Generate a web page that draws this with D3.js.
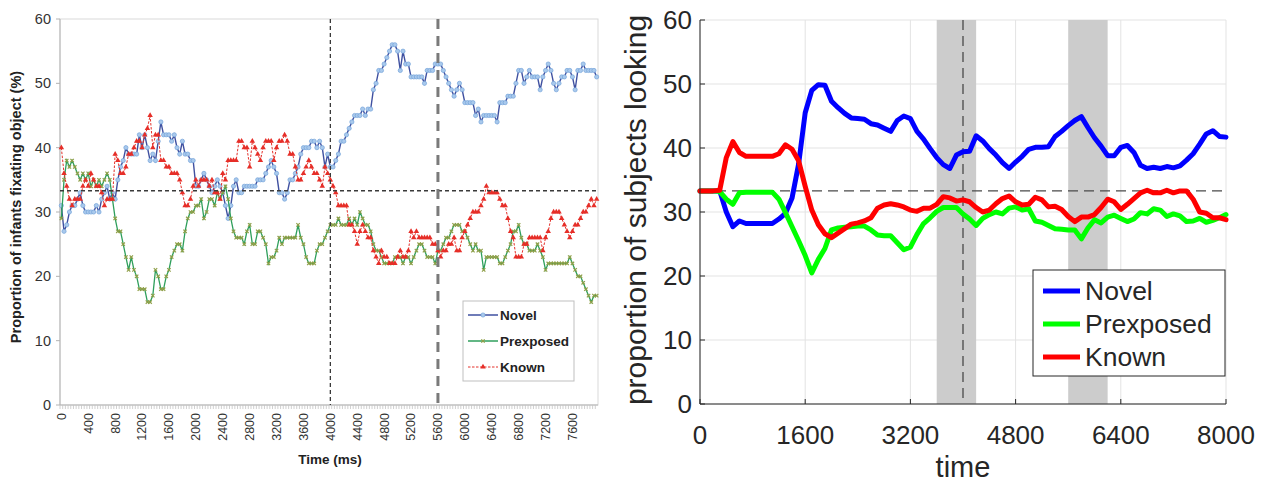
<!DOCTYPE html>
<html>
<head>
<meta charset="utf-8">
<script src="https://cdn.jsdelivr.net/npm/d3@7"></script>
<style>
  body { margin: 0; background: #fff; }
  svg { display: block; font-family: "Liberation Sans", Arial, Helvetica, sans-serif; }
</style>
</head>
<body>
<svg id="chart" width="1262" height="484"></svg>
<script>
// ---------- Left panel: sampled every 40 ms (category axis) ----------
const timesLeft = d3.range(0, 8000, 40);
const leftXTickLabels = d3.range(0, 8000, 400);
const leftYTicks = [0, 10, 20, 30, 40, 50, 60];

const novelLeft = [
  31,27,28,30,31,31,32,33,31,30, 30,30,30,31,30,32,33,34,32,33,
  32,35,37,38,40,39,39,39,39,42, 40,42,40,38,39,38,41,44,42,42,
  42,41,42,40,39,41,39,39,38,38, 34,34,35,36,35,34,33,34,35,34,
  33,31,29,31,34,35,33,33,34,34, 34,34,34,35,35,35,36,37,38,37,
  36,33,33,32,33,35,35,36,37,39, 40,40,40,41,41,40,41,40,37,39,
  37,37,38,39,41,41,42,43,44,45, 45,45,46,45,46,46,49,50,52,52,
  53,54,55,56,56,55,52,55,53,53, 51,51,51,51,51,50,52,52,52,53,
  53,53,52,51,50,49,48,49,50,49, 47,47,47,47,45,46,44,45,45,45,
  45,45,44,47,47,47,48,48,48,50, 52,52,50,51,52,51,51,51,49,51,
  52,53,52,50,49,50,51,51,52,52, 51,49,52,52,53,52,52,52,52,51
];
const prexposedLeft = [
  29,35,38,37,38,37,36,35,36,35, 36,34,35,34,35,34,35,36,35,32,
  29,27,27,25,23,21,23,21,20,18, 18,18,16,16,17,21,20,18,18,20,
  21,23,24,25,25,24,27,29,30,30, 31,31,32,29,30,32,32,31,33,32,
  33,34,32,29,27,26,26,26,25,27, 28,25,25,27,27,26,25,22,23,23,
  24,26,25,26,26,26,26,26,28,26, 25,23,22,22,22,24,25,25,26,27,
  28,28,28,29,28,28,28,29,28,29, 28,30,29,28,28,27,25,24,24,23,
  22,22,22,22,23,23,23,22,23,23, 22,23,24,25,25,24,23,23,23,22,
  24,24,25,26,26,27,28,28,28,27, 27,26,25,24,25,24,24,21,23,23,
  23,23,23,22,22,23,24,25,27,27, 28,26,25,25,24,24,24,25,24,23,
  21,22,22,22,22,22,22,22,22,23, 22,21,20,20,19,18,17,16,17,17
];
const knownLeft = [
  40,36,34,32,31,32,32,32,34,35, 34,36,35,34,34,33,31,32,32,32,
  39,38,36,36,37,39,39,40,41,41, 40,42,43,45,40,42,42,38,38,37,
  37,36,36,36,35,33,31,31,32,34, 35,34,35,35,35,34,35,33,33,32,
  36,35,38,38,38,38,41,41,40,40, 37,41,40,39,38,40,41,41,41,38,
  40,41,41,42,41,39,39,37,35,35, 36,37,38,37,36,36,35,34,37,36,
  35,34,33,31,31,31,31,28,28,27, 25,27,28,27,26,26,24,23,22,24,
  23,23,22,22,22,23,24,23,23,24, 27,26,27,26,26,26,26,26,25,25,
  24,23,24,24,25,25,26,24,24,26, 27,28,29,30,30,30,31,32,34,33,
  33,33,33,32,31,31,29,27,26,23, 23,23,25,25,26,26,26,26,26,24,
  26,27,29,30,30,30,29,28,27,26, 27,28,28,29,30,30,31,32,31,32
];
const chanceLevel = 33.3;
const leftMarkers = [4000, 5600];

// ---------- Right panel: smoothed, sampled every 100 ms ----------
const timesRight = d3.range(0, 8001, 100);
const rightXTicks = [0, 1600, 3200, 4800, 6400, 8000];
const rightYTicks = [0, 10, 20, 30, 40, 50, 60];
const shadedWindows = [[3600, 4200], [5600, 6200]];
const rightMarker = 4000;

const novelRight = [
  33.3,33.3,33.3,33.3,30,27.7,28.6,28.2,28.2,28.2,
  28.2,28.2,28.9,29.8,32.2,37.5,45.5,49,49.9,49.8,
  47.3,46.3,45.4,44.7,44.6,44.5,43.8,43.6,43.1,42.6,
  44.3,45,44.6,42.6,41.4,39.9,38.5,37.4,36.8,38.9,
  39.4,39.5,41.9,41.1,39.9,38.9,37.7,36.8,37.8,38.7,
  39.8,40.1,40.1,40.2,41.8,42.6,43.5,44.3,44.9,43.2,
  41.6,40.3,38.8,38.8,40.1,40.4,39.3,37.3,36.8,37,
  36.8,37.1,36.9,37.2,38.1,39.1,40.6,42.2,42.7,41.8,
  41.7
];
const prexposedRight = [
  33.3,33.3,33.3,33.2,32,31.2,33,33.1,33.1,33.1,
  33.1,33.1,32,29.9,27.7,25.5,23.2,20.5,22.6,24.3,
  27.2,27.5,27.6,27.7,27.8,27.8,27.2,26.4,26.3,26.3,
  25.2,24.1,24.5,26.5,28.2,29.1,30.1,30.7,30.7,30.7,
  29.7,28.9,27.9,29,29.6,30,29.7,30.6,30.8,30.3,
  30.5,28.6,28.4,27.9,27.4,27.3,27.2,27.2,25.8,27.5,
  28.8,28.3,29.2,29.5,29,28.5,28.9,29.9,29.7,30.5,
  30.3,29.3,29.7,29.4,28.5,28.6,29,28.4,28.7,29.1,
  29.6
];
const knownRight = [
  33.3,33.3,33.3,33.4,38.5,41,39.3,38.7,38.7,38.7,
  38.7,38.7,39.1,40.5,39.8,38,34,30.3,28,26.6,
  26,26.7,27.4,28.1,28.3,28.6,29.1,30.6,31.1,31.3,
  31.1,30.8,30.3,30.1,30.6,30.6,31.2,32.4,32.2,31.7,
  31.9,31.6,30.7,30,30.3,31.3,32.1,32.5,31.6,31.1,
  31.2,32.3,31.9,30.8,30.9,30.4,29.3,28.5,29.2,29.2,
  29.6,30.7,32,31.6,30.4,31.2,32.1,33,33.4,33,
  33,33.4,33,33.3,33.3,32,30,29.8,29.1,29.1,
  28.8
];

const seriesNames = ["Novel", "Prexposed", "Known"];

const svg = d3.select("#chart");

// ====================== LEFT PANEL ======================
const L = { left: 60, right: 598, top: 19, bottom: 405 };
const xL = d3.scaleBand().domain(timesLeft).range([L.left, L.right]);
const yL = d3.scaleLinear().domain([0, 60]).range([L.bottom, L.top]);
const cxL = t => xL(t) + xL.bandwidth() / 2;

const gL = svg.append("g");

// plot frame
gL.append("rect")
  .attr("x", L.left).attr("y", L.top)
  .attr("width", L.right - L.left).attr("height", L.bottom - L.top)
  .attr("fill", "none").attr("stroke", "#d9d9d9").attr("stroke-width", 1);

// y axis
gL.append("line").attr("x1", L.left).attr("x2", L.left)
  .attr("y1", L.top).attr("y2", L.bottom).attr("stroke", "#b3b3b3");
leftYTicks.forEach(v => {
  gL.append("line").attr("x1", L.left - 4).attr("x2", L.left)
    .attr("y1", yL(v)).attr("y2", yL(v)).attr("stroke", "#b3b3b3");
  gL.append("text").attr("x", L.left - 9).attr("y", yL(v)).attr("dy", "0.35em")
    .attr("text-anchor", "end").attr("font-size", 14.5).attr("fill", "#333")
    .text(v);
});

// x axis with a tick mark at every category boundary
gL.append("line").attr("x1", L.left).attr("x2", L.right)
  .attr("y1", L.bottom).attr("y2", L.bottom).attr("stroke", "#b3b3b3");
timesLeft.forEach(t => {
  gL.append("line").attr("x1", xL(t)).attr("x2", xL(t))
    .attr("y1", L.bottom).attr("y2", L.bottom + 4)
    .attr("stroke", "#c4c4c4").attr("stroke-width", 0.8);
});
leftXTickLabels.forEach(t => {
  gL.append("text")
    .attr("transform", `translate(${cxL(t)},${L.bottom + 8}) rotate(-90)`)
    .attr("dy", "0.35em").attr("text-anchor", "end")
    .attr("font-size", 12.5).attr("fill", "#333").text(t);
});

gL.append("text").attr("x", 330).attr("y", 464).attr("text-anchor", "middle")
  .attr("font-size", 13.5).attr("font-weight", "bold").attr("fill", "#222")
  .text("Time (ms)");
gL.append("text").attr("transform", "translate(21,207) rotate(-90)")
  .attr("text-anchor", "middle").attr("font-size", 14.5).attr("font-weight", "bold")
  .attr("fill", "#222").text("Proportion of infants fixating object (%)");

const lineL = d3.line().x((d, i) => cxL(timesLeft[i])).y(d => yL(d));

// Novel: navy line with light-blue round markers
gL.append("path").datum(novelLeft).attr("d", lineL)
  .attr("fill", "none").attr("stroke", "#3f50a0").attr("stroke-width", 1.4);
gL.append("g").selectAll("circle").data(novelLeft).join("circle")
  .attr("cx", (d, i) => cxL(timesLeft[i])).attr("cy", d => yL(d)).attr("r", 2.1)
  .attr("fill", "#a9c9ec").attr("stroke", "#74a3da").attr("stroke-width", 0.7);

// Prexposed: green line with olive cross markers
gL.append("path").datum(prexposedLeft).attr("d", lineL)
  .attr("fill", "none").attr("stroke", "#2f9f5c").attr("stroke-width", 1.3);
gL.append("g").selectAll("path").data(prexposedLeft).join("path")
  .attr("transform", (d, i) => `translate(${cxL(timesLeft[i])},${yL(d)})`)
  .attr("d", "M-1.7,-1.7L1.7,1.7M-1.7,1.7L1.7,-1.7")
  .attr("stroke", "#8f9f48").attr("stroke-width", 1.2).attr("fill", "none");

// Known: red dashed line with triangle markers
gL.append("path").datum(knownLeft).attr("d", lineL)
  .attr("fill", "none").attr("stroke", "#e4312b").attr("stroke-width", 1)
  .attr("stroke-dasharray", "2.5,1.5");
const tri = d3.symbol(d3.symbolTriangle, 13);
gL.append("g").selectAll("path").data(knownLeft).join("path")
  .attr("transform", (d, i) => `translate(${cxL(timesLeft[i])},${yL(d)})`)
  .attr("d", tri).attr("fill", "#e62e28");

// reference lines
gL.append("line").attr("x1", L.left).attr("x2", L.right)
  .attr("y1", yL(chanceLevel)).attr("y2", yL(chanceLevel))
  .attr("stroke", "#3a3a3a").attr("stroke-width", 1.3).attr("stroke-dasharray", "4,3");
gL.append("line").attr("x1", cxL(leftMarkers[0])).attr("x2", cxL(leftMarkers[0]))
  .attr("y1", L.top).attr("y2", L.bottom)
  .attr("stroke", "#3a3a3a").attr("stroke-width", 1.3).attr("stroke-dasharray", "4,3");
gL.append("line").attr("x1", cxL(leftMarkers[1])).attr("x2", cxL(leftMarkers[1]))
  .attr("y1", L.top).attr("y2", L.bottom)
  .attr("stroke", "#7a7a7a").attr("stroke-width", 3).attr("stroke-dasharray", "10,7");

// legend
const legL = gL.append("g");
legL.append("rect").attr("x", 463).attr("y", 301).attr("width", 111).attr("height", 80)
  .attr("fill", "#fff").attr("stroke", "#bfbfbf");
const legLY = [315, 341, 367];
legL.append("line").attr("x1", 468).attr("x2", 498).attr("y1", legLY[0]).attr("y2", legLY[0])
  .attr("stroke", "#3f50a0").attr("stroke-width", 1.5);
legL.append("circle").attr("cx", 483).attr("cy", legLY[0]).attr("r", 2.1)
  .attr("fill", "#a9c9ec").attr("stroke", "#74a3da").attr("stroke-width", 0.7);
legL.append("line").attr("x1", 468).attr("x2", 498).attr("y1", legLY[1]).attr("y2", legLY[1])
  .attr("stroke", "#2f9f5c").attr("stroke-width", 1.5);
legL.append("path").attr("transform", `translate(483,${legLY[1]})`)
  .attr("d", "M-1.7,-1.7L1.7,1.7M-1.7,1.7L1.7,-1.7")
  .attr("stroke", "#8f9f48").attr("stroke-width", 1.2);
legL.append("line").attr("x1", 468).attr("x2", 498).attr("y1", legLY[2]).attr("y2", legLY[2])
  .attr("stroke", "#e4312b").attr("stroke-width", 1).attr("stroke-dasharray", "2.5,1.5");
legL.append("path").attr("transform", `translate(483,${legLY[2]})`).attr("d", tri).attr("fill", "#e62e28");
seriesNames.forEach((n, i) => {
  legL.append("text").attr("x", 500).attr("y", legLY[i]).attr("dy", "0.35em")
    .attr("font-size", 13.5).attr("font-weight", "bold").attr("fill", "#222").text(n);
});

// ====================== RIGHT PANEL ======================
const R = { left: 700, right: 1226, top: 20, bottom: 404 };
const xR = d3.scaleLinear().domain([0, 8000]).range([R.left, R.right]);
const yR = d3.scaleLinear().domain([0, 60]).range([R.bottom, R.top]);
const gR = svg.append("g");

// grid
rightXTicks.forEach(t => {
  gR.append("line").attr("x1", xR(t)).attr("x2", xR(t)).attr("y1", R.top).attr("y2", R.bottom)
    .attr("stroke", "#e3e3e3").attr("stroke-width", 1);
});
rightYTicks.forEach(v => {
  gR.append("line").attr("x1", R.left).attr("x2", R.right).attr("y1", yR(v)).attr("y2", yR(v))
    .attr("stroke", "#e3e3e3").attr("stroke-width", 1);
});

// shaded analysis windows
shadedWindows.forEach(([a, b]) => {
  gR.append("rect").attr("x", xR(a)).attr("y", R.top)
    .attr("width", xR(b) - xR(a)).attr("height", R.bottom - R.top).attr("fill", "#cccccc");
});

// reference lines
gR.append("line").attr("x1", R.left).attr("x2", R.right)
  .attr("y1", yR(chanceLevel)).attr("y2", yR(chanceLevel))
  .attr("stroke", "#4a4a4a").attr("stroke-width", 1.3).attr("stroke-dasharray", "10,6");
gR.append("line").attr("x1", xR(rightMarker)).attr("x2", xR(rightMarker))
  .attr("y1", R.top).attr("y2", R.bottom)
  .attr("stroke", "#4a4a4a").attr("stroke-width", 1.3).attr("stroke-dasharray", "10,6");

// data
const lineR = d3.line().x((d, i) => xR(timesRight[i])).y(d => yR(d));
const rightSeries = [
  { values: novelRight, color: "#0000ff" },
  { values: prexposedRight, color: "#00ff00" },
  { values: knownRight, color: "#ff0000" }
];
rightSeries.forEach(s => {
  gR.append("path").datum(s.values).attr("d", lineR)
    .attr("fill", "none").attr("stroke", s.color).attr("stroke-width", 5)
    .attr("stroke-linejoin", "round").attr("stroke-linecap", "round");
});

// axes
gR.append("line").attr("x1", R.left).attr("x2", R.left).attr("y1", R.top).attr("y2", R.bottom)
  .attr("stroke", "#262626");
gR.append("line").attr("x1", R.left).attr("x2", R.right).attr("y1", R.bottom).attr("y2", R.bottom)
  .attr("stroke", "#262626");
rightYTicks.forEach(v => {
  gR.append("line").attr("x1", R.left).attr("x2", R.left + 5).attr("y1", yR(v)).attr("y2", yR(v))
    .attr("stroke", "#262626");
  gR.append("text").attr("x", R.left - 8).attr("y", yR(v)).attr("dy", "0.35em")
    .attr("text-anchor", "end").attr("font-size", 26).attr("fill", "#262626").text(v);
});
rightXTicks.forEach(t => {
  gR.append("line").attr("x1", xR(t)).attr("x2", xR(t)).attr("y1", R.bottom).attr("y2", R.bottom - 5)
    .attr("stroke", "#262626");
  gR.append("text").attr("x", xR(t)).attr("y", 444)
    .attr("text-anchor", "middle").attr("font-size", 26).attr("fill", "#262626").text(t);
});
gR.append("text").attr("x", 963).attr("y", 477).attr("text-anchor", "middle")
  .attr("font-size", 29).attr("fill", "#262626").text("time");
gR.append("text").attr("transform", "translate(646,210) rotate(-90)")
  .attr("text-anchor", "middle").attr("font-size", 30).attr("fill", "#262626")
  .text("proportion of subjects looking");

// legend
const legR = gR.append("g");
legR.append("rect").attr("x", 1033).attr("y", 270).attr("width", 192).attr("height", 106)
  .attr("fill", "#fff").attr("stroke", "#262626");
const legRY = [291, 324, 357];
rightSeries.forEach((s, i) => {
  legR.append("line").attr("x1", 1043).attr("x2", 1080).attr("y1", legRY[i]).attr("y2", legRY[i])
    .attr("stroke", s.color).attr("stroke-width", 5);
  legR.append("text").attr("x", 1085).attr("y", legRY[i]).attr("dy", "0.35em")
    .attr("font-size", 26.5).attr("fill", "#262626").text(seriesNames[i]);
});
</script>
</body>
</html>
